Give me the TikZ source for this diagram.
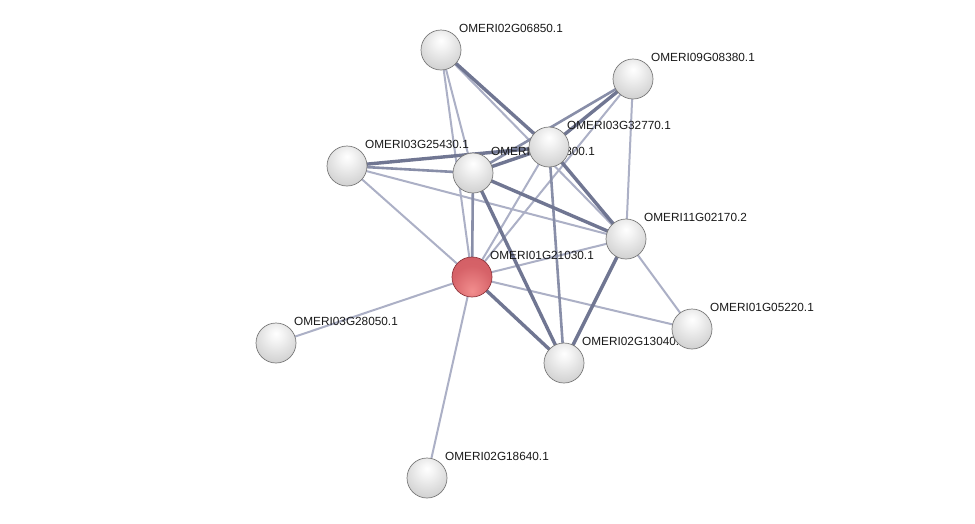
\documentclass[tikz,border=0pt]{standalone}
\usepackage{fontspec}
\setmainfont{Liberation Sans}
\pgfdeclarelayer{edges}
\pgfdeclarelayer{labels}
\pgfsetlayers{edges,labels,main}
\definecolor{ethick}{RGB}{112,118,146}
\definecolor{emed}{RGB}{136,142,168}
\definecolor{ethin}{RGB}{172,176,198}
\definecolor{rtop}{RGB}{180,68,76}
\definecolor{rmid}{RGB}{214,98,104}
\definecolor{rbot}{RGB}{242,142,142}
\pgfdeclareradialshading{sph}{\pgfpoint{0bp}{12bp}}{color(0bp)=(white); color(8bp)=(black!4); color(30bp)=(black!17); color(48bp)=(black!28); color(62bp)=(black!44); color(80bp)=(black!44)}
\pgfdeclareradialshading{rsph}{\pgfpoint{0bp}{-18bp}}{color(0bp)=(rbot); color(26bp)=(rmid); color(50bp)=(rmid!80!rtop); color(66bp)=(rtop); color(80bp)=(rtop)}
\begin{document}
\begin{tikzpicture}[x=1pt,y=-1pt,
  prot/.style={circle,minimum size=40pt,inner sep=0pt,shading=sph,draw=black!52,line width=0.7pt},
  query/.style={prot,shading=rsph,draw=rtop!80!black},
  lbl/.style={anchor=west,inner sep=0pt,font=\fontsize{11.8}{12}\selectfont,text=black!90},
  thk/.style={draw=ethick,line width=3.4pt},
  med/.style={draw=emed,line width=2.6pt},
  thn/.style={draw=ethin,line width=2pt}]
\useasboundingbox (0,0) rectangle (975,523);
% nodes
\node[prot] (A) at (441,50) {};
\node[prot] (B) at (633,79) {};
\node[prot] (C) at (549,147) {};
\node[prot] (D) at (473,173) {};
\node[prot] (E) at (347,166) {};
\node[prot] (F) at (626,239) {};
\node[query] (G) at (472,277) {};
\node[prot] (H) at (692,329) {};
\node[prot] (I) at (564,363) {};
\node[prot] (J) at (276,343) {};
\node[prot] (K) at (427,478) {};
% labels
\begin{pgfonlayer}{labels}
\node[lbl] (lA) at (459,28) {OMERI02G06850.1};
\node[lbl] (lB) at (651,57) {OMERI09G08380.1};
\node[lbl] (lC) at (567,125) {OMERI03G32770.1};
\node[lbl] (lD) at (491,151) {OMERI03G32800.1};
\node[lbl] (lE) at (365,144) {OMERI03G25430.1};
\node[lbl] (lF) at (644,217) {OMERI11G02170.2};
\node[lbl] (lG) at (490,255) {OMERI01G21030.1};
\node[lbl] (lH) at (710,307) {OMERI01G05220.1};
\node[lbl] (lI) at (582,341) {OMERI02G13040.1};
\node[lbl] (lJ) at (294,321) {OMERI03G28050.1};
\node[lbl] (lK) at (445,456) {OMERI02G18640.1};
\end{pgfonlayer}
% edges
\begin{pgfonlayer}{edges}
\fill[white] (0,0) rectangle (975,523);
\draw[thn] (A.center) -- (F.center);
\draw[thn] (A.center) -- (G.center);
\draw[thn] (A.center) -- (D.center);
\draw[thn] (E.center) -- (F.center);
\draw[thn] (E.center) -- (G.center);
\draw[thn] (G.center) -- (C.center);
\draw[thn] (G.center) -- (B.center);
\draw[thn] (G.center) -- (F.center);
\draw[thn] (G.center) -- (H.center);
\draw[thn] (F.center) -- (H.center);
\draw[thn] (B.center) -- (F.center);
\draw[thn] (G.center) -- (J.center);
\draw[thn] (G.center) -- (K.center);
\draw[med] (C.center) -- (I.center);
\draw[med] (E.center) -- (D.center);
\draw[med] (B.center) -- (D.center);
\draw[med] (D.center) -- (G.center);
\draw[thk] (A.center) -- (C.center);
\draw[thk] (E.center) -- (C.center);
\draw[thk] (D.center) -- (C.center);
\draw[thk] (D.center) -- (F.center);
\draw[thk] (D.center) -- (I.center);
\draw[thk] (C.center) -- (F.center);
\draw[thk] (G.center) -- (I.center);
\draw[thk] (F.center) -- (I.center);
\draw[thk] (B.center) -- (C.center);
\end{pgfonlayer}
\end{tikzpicture}
\end{document}
